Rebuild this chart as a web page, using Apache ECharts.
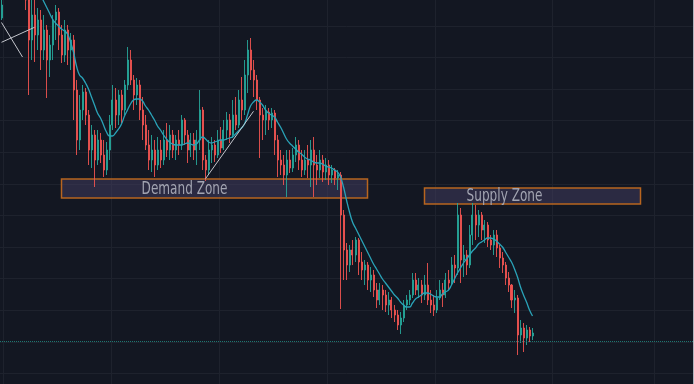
<!DOCTYPE html>
<html>
<head>
<meta charset="utf-8">
<script src="https://cdn.jsdelivr.net/npm/echarts@6/dist/echarts.min.js"></script>
<style>
html,body{margin:0;padding:0;background:#131722;width:694px;height:384px;overflow:hidden;position:relative;}
#chart{position:absolute;left:0;top:-6px;width:694px;height:411px;}
</style>
</head>
<body>
<div id="chart"></div>
<script>
// OHLC candles: [open, close, low, high]
const candles = [
[387,400,385,405],[412,424,409,430],[424,418,413,432],[418,430,415,436],[430,422,418,438],
[422,428,414,434],[428,420,412,431],[420,414,408,425],[414,405,395,425],[405,365,310,410],
[365,390,345,405],[390,370,343,405],[370,385,355,397],[385,355,335,395],[355,375,345,390],
[375,345,307,380],[345,360,328,370],[360,385,345,390],[385,393,365,400],[393,370,355,397],
[370,350,342,380],[350,375,343,385],[375,355,340,380],[355,365,335,372],[365,315,285,370],
[315,265,250,325],[265,295,255,310],[295,313,285,320],[313,290,280,317],[290,255,240,295],
[255,270,237,280],[270,245,218,275],[245,265,240,275],[265,250,242,272],[250,235,228,265],
[235,255,230,263],[255,280,245,290],[280,305,275,320],[305,290,277,317],[290,310,280,315],
[310,295,282,315],[295,320,290,325],[320,345,315,358],[345,325,320,355],[325,310,295,330],
[310,320,300,327],[320,295,285,325],[295,280,265,308],[280,260,255,290],[260,245,235,275],
[245,255,233,270],[255,240,228,265],[240,255,235,268],[255,245,237,265],[245,265,240,275],
[265,255,248,282],[255,270,245,280],[270,255,247,275],[255,265,245,270],[265,260,250,275],
[260,285,255,290],[285,270,260,287],[270,255,242,275],[255,265,248,272],[265,255,245,272],
[255,265,240,275],[265,295,255,315],[295,245,235,298],[245,235,224,250],[235,255,230,265],
[255,260,242,268],[260,250,243,265],[250,265,247,275],[265,257,252,278],[257,275,255,285],
[275,285,265,293],[285,270,262,291],[270,290,267,305],[290,280,275,308],[280,305,277,315],
[305,295,285,328],[295,330,290,345],[330,355,312,365],[355,335,325,367],[335,325,308,345],
[325,305,295,330],[305,290,247,308],[290,285,265,297],[285,293,270,300],[293,285,275,297],
[285,292,277,297],[292,265,250,295],[265,245,228,270],[245,240,230,255],[240,230,220,250],
[230,245,208,255],[245,237,232,255],[237,250,233,257],[250,260,243,268],[260,245,235,265],
[245,235,228,255],[235,245,230,255],[245,240,227,260],[240,255,218,265],[255,240,208,268],
[240,235,220,250],[235,245,227,255],[245,233,223,250],[233,240,225,247],[240,230,220,245],
[230,235,222,240],[235,227,220,237],[227,230,215,235],[230,190,96,233],[190,155,125,195],
[155,140,125,162],[140,155,133,160],[155,150,140,165],[150,165,143,168],[165,143,130,167],
[143,135,125,153],[135,140,120,145],[140,125,115,143],[125,130,113,138],[130,115,108,135],
[115,105,97,122],[105,115,100,122],[115,110,95,120],[110,100,93,115],[100,105,90,113],
[105,95,87,108],[95,90,83,100],[90,80,75,95],[80,87,71,93],[87,100,83,105],
[100,105,95,110],[105,110,100,115],[110,125,107,132],[125,115,110,132],[115,120,107,127],
[120,110,102,125],[110,120,105,130],[120,105,100,142],[105,100,92,115],[100,95,89,110],
[95,107,92,115],[107,115,105,125],[115,110,98,122],[110,125,107,132],[125,122,115,135],
[122,140,120,148],[140,137,122,150],[137,190,130,202],[190,145,122,197],[145,150,128,160],
[150,140,130,155],[140,170,137,180],[170,190,160,202],[190,180,165,200],[180,190,168,195],
[190,175,165,193],[175,180,162,185],[180,165,158,183],[165,160,155,170],[160,170,150,175],
[170,157,148,175],[157,147,137,160],[147,140,132,153],[140,127,120,143],[127,120,113,133],
[120,105,97,121],[105,107,92,115],[107,70,50,110],[70,77,62,85],[77,67,53,82],
[67,75,60,80],[75,69,63,78],[69,72,65,77]
];

// moving average values
const ma = [
null,null,null,null,null,null,null,null,null,null,
null,425,417,410,404,398,392,386,382,379,
376,374,371,363,353,339,330,327,322,316,
308,300,292,287,280,273,269,269,272,276,
281,289,295,301,305,306,306,304,299,295,
290,285,279,275,270,266,263,261,260,260,
260,261,262,261,260,261,265,268,266,263,
262,263,264,265,265,266,267,268,271,274,
277,281,290,299,303,305,303,300,295,292,
290,288,283,278,272,266,262,259,256,253,
251,248,246,245,243,242,242,241,239,238,
237,235,233,228,218,205,193,183,177,171,
165,159,153,147,141,136,131,126,122,118,
114,110,107,103,100,98,98,102,106,108,
110,112,112,111,109,108,108,111,113,115,
120,126,132,137,142,146,150,154,157,161,
163,165,167,167,166,164,161,158,153,148,
143,136,128,118,110,103,95,89
];

const totalSlots = 231;
const timeGridIdx = [1, 37, 73, 109, 145, 184, 218];
const priceStep = 31.6;
const priceMax = 411;

const demandZone = { name: 'Demand Zone', x: [20, 122], y: [207, 226] };
const supplyZone = { name: 'Supply Zone', x: [141, 213], y: [201, 217] };
const priceLevel = 64;
const trendLines = [
  [[0, 382.5], [7, 348]],
  [[0, 362.7], [11, 377.7]],
  [[68, 226.3], [84, 293.7]]
];

const categories = Array.from({ length: totalSlots }, (_, i) => String(i));

const upColor = '#26a69a';
const downColor = '#ef5350';
const zoneStyle = {
  color: 'rgba(68,62,98,0.5)',
  borderColor: '#b8651f',
  borderWidth: 1.5
};

const chart = echarts.init(document.getElementById('chart'), null, { renderer: 'canvas' });
chart.setOption({
  backgroundColor: '#131722',
  animation: false,
  grid: { left: 0, right: 1, top: 0, bottom: 0, containLabel: false },
  xAxis: {
    type: 'category',
    data: categories,
    boundaryGap: true,
    axisLine: { show: false },
    axisTick: { show: false },
    axisLabel: { show: false },
    splitLine: {
      show: true,
      interval: (idx) => timeGridIdx.includes(idx),
      lineStyle: { color: '#1e222d', width: 1 }
    }
  },
  yAxis: {
    type: 'value',
    position: 'right',
    min: 0,
    max: priceMax,
    interval: priceStep,
    axisLabel: { show: false },
    axisTick: { show: false },
    axisLine: { show: true, lineStyle: { color: '#b2b5be', width: 1 } },
    splitLine: { show: true, lineStyle: { color: '#1e222d', width: 1 } }
  },
  series: [
    {
      type: 'candlestick',
      data: candles,
      barWidth: 1.5,
      clip: true,
      itemStyle: {
        color: upColor, color0: downColor,
        borderColor: upColor, borderColor0: downColor,
        borderWidth: 0.9
      },
      markArea: {
        silent: true,
        label: { show: false },
        data: [
          [
            { name: demandZone.name, xAxis: demandZone.x[0], yAxis: demandZone.y[1], itemStyle: zoneStyle },
            { xAxis: demandZone.x[1], yAxis: demandZone.y[0] }
          ],
          [
            { name: supplyZone.name, xAxis: supplyZone.x[0], yAxis: supplyZone.y[1], itemStyle: zoneStyle },
            { xAxis: supplyZone.x[1], yAxis: supplyZone.y[0] }
          ]
        ]
      },
      markLine: {
        silent: true,
        symbol: ['none', 'none'],
        label: { show: false },
        data: [
          { yAxis: priceLevel, lineStyle: { type: 'dotted', color: '#1f7570', width: 1 } },
          ...trendLines.map(l => [
            { coord: l[0], lineStyle: { type: 'solid', color: '#c3c5cc', width: 1 } },
            { coord: l[1] }
          ])
        ]
      }
    },
    {
      type: 'line',
      data: ma,
      showSymbol: false,
      smooth: true,
      clip: true,
      lineStyle: { color: '#2aa3b8', width: 1.3 },
      z: 3
    }
  ]
});

// zone captions placed from the zone data through the chart's own scales
function zoneText(zone, dx, dy) {
  const a = chart.convertToPixel({ seriesIndex: 0 }, [zone.x[0], zone.y[0]]);
  const b = chart.convertToPixel({ seriesIndex: 0 }, [zone.x[1], zone.y[1]]);
  return {
    type: 'text',
    x: (a[0] + b[0]) / 2 + dx,
    y: (a[1] + b[1]) / 2 + dy,
    scaleX: 0.79,
    silent: true,
    z: 10,
    style: {
      text: zone.name,
      fill: '#a3a5b2',
      font: "17px 'DejaVu Sans Condensed', 'DejaVu Sans', sans-serif",
      align: 'center',
      verticalAlign: 'middle'
    }
  };
}
chart.setOption({
  graphic: [zoneText(demandZone, -30, 1), zoneText(supplyZone, -28, 1)]
});
</script>
</body>
</html>
